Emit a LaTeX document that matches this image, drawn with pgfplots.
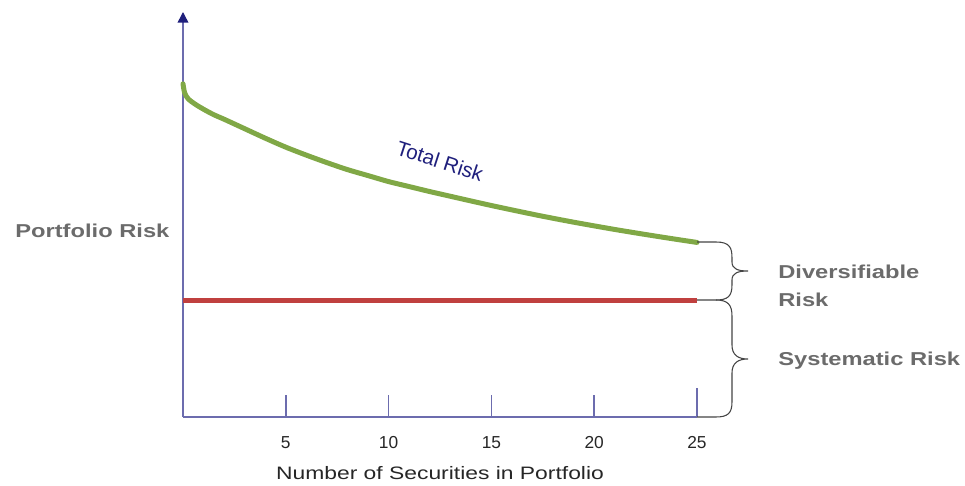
\documentclass[border=0pt]{standalone}
\usepackage{pgfplots}
\pgfplotsset{compat=1.18}
\usepackage{fontspec}
\setmainfont{Liberation Sans}
\usetikzlibrary{arrows.meta}
\definecolor{gcurve}{HTML}{80A846}
\definecolor{rline}{HTML}{C0403F}
\definecolor{axcol}{HTML}{6C6CAE}
\definecolor{navyc}{HTML}{1F1F7C}
\definecolor{graytxt}{HTML}{6B6B6B}
\definecolor{bracec}{HTML}{444444}
\begin{document}
\begin{tikzpicture}
\begin{scope}[x=0.75pt,y=-0.75pt,shift={(-137.25pt,312.75pt)}]
\useasboundingbox (0,0) rectangle (965,486);
\end{scope}
\begin{axis}[
  scale only axis, width=385.5pt, height=303.75pt,
  xmin=0, xmax=25, ymin=0, ymax=406,
  axis x line=bottom, axis y line=left,
  x axis line style={-, color=axcol, line width=1.1pt},
  y axis line style={-{Triangle[width=8pt,length=8pt,color=navyc]}, color=axcol, line width=1.1pt},
  xtick={5,10,15,20}, ytick=\empty,
  extra x ticks={25}, extra x tick style={major tick length=21.75pt},
  tick align=inside, major tick length=16.5pt,
  tick style={color=axcol, line width=1.1pt},
  xticklabel style={font=\fontsize{13}{15}\selectfont, text=black!85, yshift=-11pt},
  extra x tick labels={25},
  /pgf/number format/assume math mode=true,
  clip=false,
]
\addplot[color=gcurve, line width=3.75pt, smooth, line cap=round, line join=round] coordinates {
(0,334) (0.08,325) (0.25,319) (0.6,313.5) (1,308.5) (1.5,303) (2,298.5) (3,289) (4,279.5) (5,270.5)
(6,262.5) (7,255) (8,248) (9,242) (10,236) (11,231) (12,226) (13,221.3) (14,216.6) (15,212)
(16,207.6) (17,203.3) (18,199.2) (19,195.3) (20,191.6) (21,188) (22,184.6) (23,181.3) (24,178.1) (25,175)};
\addplot[color=rline, line width=3.75pt] coordinates {(0,117) (25,117)};
\end{axis}
\begin{scope}[x=0.75pt,y=-0.75pt,shift={(-137.25pt,312.75pt)}]
% upper brace
\draw[color=bracec, line width=0.8pt]
 (697,242) -- (716,242) .. controls (730,242) and (732,248) .. (732,258) -- (732,262)
 .. controls (732,269) and (738,271) .. (748,271)
 .. controls (738,271) and (732,273) .. (732,280) -- (732,285)
 .. controls (732,296) and (728,300) .. (716,300) -- (697,300);
% lower brace
\draw[color=bracec, line width=0.8pt]
 (716,300) .. controls (728,300) and (732,305) .. (732,316) -- (732,345)
 .. controls (732,355) and (738,359) .. (748,359)
 .. controls (738,359) and (732,363) .. (732,373) -- (732,402)
 .. controls (732,413) and (728,417) .. (716,417) -- (697,417);
\node[anchor=west, font=\bfseries\fontsize{14}{17}\selectfont, text=graytxt, xscale=1.27, inner sep=0pt] at (15,231) {Portfolio Risk};
\node[anchor=west, font=\bfseries\fontsize{14}{17}\selectfont, text=graytxt, xscale=1.27, inner sep=0pt] at (778,272) {Diversifiable};
\node[anchor=west, font=\bfseries\fontsize{14}{17}\selectfont, text=graytxt, xscale=1.27, inner sep=0pt] at (778,300) {Risk};
\node[anchor=west, font=\bfseries\fontsize{14}{17}\selectfont, text=graytxt, xscale=1.27, inner sep=0pt] at (778,361) {Systematic Risk};
\node[font=\fontsize{13.5}{16}\selectfont, text=black!85, xscale=1.27, inner sep=0pt] at (440,473) {Number of Securities in Portfolio};
\node[font=\fontsize{15.5}{18}\selectfont, text=navyc, rotate=-18, inner sep=0pt] at (440,161) {Total Risk};
\end{scope}
\end{tikzpicture}
\end{document}
